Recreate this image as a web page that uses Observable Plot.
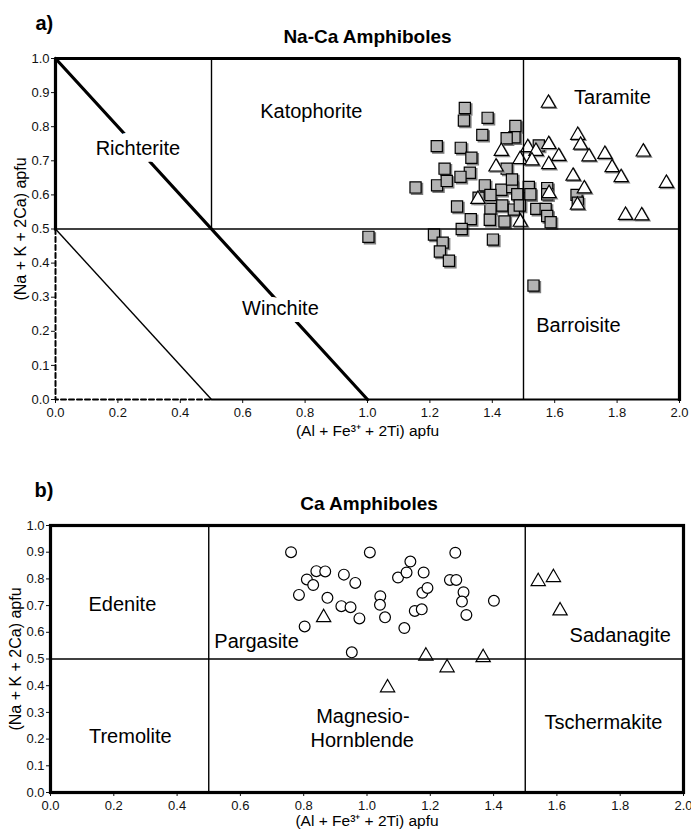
<!DOCTYPE html>
<html>
<head>
<meta charset="utf-8">
<script src="https://cdn.jsdelivr.net/npm/d3@7"></script>
<script src="https://cdn.jsdelivr.net/npm/@observablehq/plot@0.6"></script>
<style>
  html, body { margin: 0; padding: 0; background: #fff; }
  #chart { width: 691px; }
  #chart svg { display: block; }
</style>
</head>
<body>
<div id="chart"></div>
<script>
// ---------- shared axis data ----------
const xTicks = [0, 0.2, 0.4, 0.6, 0.8, 1.0, 1.2, 1.4, 1.6, 1.8, 2.0];
const yTicks = [0, 0.1, 0.2, 0.3, 0.4, 0.5, 0.6, 0.7, 0.8, 0.9, 1.0];
const xTitle = "(Al + Fe³⁺ + 2Ti) apfu";
const yTitle = "(Na + K + 2Ca) apfu";

// ---------- panel a: Na-Ca amphiboles ----------
const panelATag = "a)";
const panelATitle = "Na-Ca Amphiboles";
const naCaSquares = [
  [1.003, 0.477], [1.154, 0.622], [1.222, 0.743], [1.223, 0.628], [1.247, 0.677],
  [1.254, 0.641], [1.213, 0.484], [1.241, 0.460], [1.232, 0.434], [1.261, 0.407],
  [1.312, 0.855], [1.309, 0.818], [1.385, 0.826], [1.368, 0.776], [1.299, 0.738],
  [1.333, 0.709], [1.328, 0.665], [1.298, 0.653], [1.287, 0.566], [1.331, 0.529],
  [1.302, 0.500], [1.402, 0.469], [1.376, 0.628], [1.356, 0.592], [1.394, 0.559],
  [1.392, 0.527], [1.429, 0.615], [1.432, 0.569], [1.439, 0.522], [1.464, 0.623],
  [1.469, 0.557], [1.474, 0.802], [1.471, 0.769], [1.446, 0.766], [1.446, 0.677],
  [1.463, 0.645], [1.394, 0.600], [1.517, 0.623], [1.522, 0.602], [1.576, 0.620],
  [1.576, 0.602], [1.480, 0.602], [1.488, 0.569], [1.541, 0.559], [1.571, 0.559],
  [1.576, 0.538], [1.587, 0.520], [1.549, 0.745], [1.670, 0.600], [1.674, 0.577],
  [1.532, 0.334]
];
const naCaTriangles = [
  [1.580, 0.875], [1.674, 0.781], [1.683, 0.752], [1.710, 0.718], [1.761, 0.725],
  [1.884, 0.732], [1.784, 0.686], [1.813, 0.657], [1.659, 0.661], [1.695, 0.624],
  [1.673, 0.576], [1.958, 0.640], [1.827, 0.546], [1.879, 0.545], [1.582, 0.610],
  [1.490, 0.526], [1.581, 0.754], [1.613, 0.719], [1.581, 0.695], [1.514, 0.745],
  [1.540, 0.734], [1.489, 0.710], [1.527, 0.706], [1.429, 0.734], [1.412, 0.688],
  [1.354, 0.593]
];
// field boundaries (data coordinates)
const naCaOutline = [[0, 0.5], [0, 1], [2, 1], [2, 0]];
const naCaDiagonal = [[0, 1], [1, 0]];
const naCaBase = [[0.5, 0], [2, 0]];
const naCaThinLines = [
  [[0, 0.5], [2, 0.5]],
  [[0.5, 0.5], [0.5, 1]],
  [[1.5, 0], [1.5, 1]],
  [[0, 0.5], [0.5, 0]]
];
const naCaDashed = [[0, 0.5], [0, 0], [0.5, 0]];
const naCaFieldNames = ["Katophorite", "Taramite", "Barroisite"];
const naCaFieldX = [0.82, 1.785, 1.676];
const naCaFieldY = [0.845, 0.886, 0.217];
const naCaHaloNames = ["Richterite", "Winchite"];
const naCaHaloX = [0.264, 0.721];
const naCaHaloY = [0.736, 0.267];

// ---------- panel b: Ca amphiboles ----------
const panelBTag = "b)";
const panelBTitle = "Ca Amphiboles";
const caCircles = [
  [0.760, 0.900], [0.810, 0.798], [0.785, 0.740], [0.830, 0.777], [0.840, 0.829],
  [0.868, 0.828], [0.803, 0.622], [0.875, 0.729], [0.927, 0.816], [0.963, 0.785],
  [0.919, 0.698], [0.948, 0.694], [0.976, 0.652], [0.952, 0.525], [1.009, 0.899],
  [1.042, 0.735], [1.041, 0.703], [1.057, 0.656], [1.098, 0.805], [1.125, 0.824],
  [1.137, 0.865], [1.179, 0.824], [1.175, 0.748], [1.191, 0.766], [1.151, 0.680],
  [1.173, 0.686], [1.118, 0.616], [1.279, 0.898], [1.262, 0.796], [1.282, 0.796],
  [1.305, 0.750], [1.300, 0.715], [1.314, 0.665], [1.401, 0.718]
];
const caTriangles = [
  [0.863, 0.663], [1.186, 0.519], [1.253, 0.475], [1.367, 0.513], [1.065, 0.400],
  [1.541, 0.798], [1.589, 0.813], [1.610, 0.688]
];
const caThinLines = [
  [[0.5, 0], [0.5, 1]],
  [[1.5, 0], [1.5, 1]],
  [[0, 0.5], [2, 0.5]]
];
const caFieldNames = ["Edenite", "Tremolite", "Pargasite", "Magnesio-", "Hornblende", "Sadanagite", "Tschermakite"];
const caFieldX = [0.227, 0.252, 0.651, 0.987, 0.985, 1.80, 1.747];
const caFieldY = [0.704, 0.209, 0.565, 0.286, 0.196, 0.5875, 0.2625];

// ---------- helpers ----------
const FONT = "'Liberation Sans', Arial, Helvetica, sans-serif";
const px = d => d[0], py = d => d[1];
const labels = (names, xs, ys) => names.map((t, i) => ({t, x: xs[i], y: ys[i]}));
const seg = {x1: d => d[0][0], y1: d => d[0][1], x2: d => d[1][0], y2: d => d[1][1]};

function basePlot(opts, marks) {
  return Plot.plot({
    width: 691,
    height: opts.height,
    marginTop: opts.marginTop,
    marginBottom: opts.marginBottom,
    marginLeft: opts.marginLeft,
    marginRight: opts.marginRight,
    style: {fontFamily: FONT, fontSize: "13px", color: "#111", background: "white", overflow: "visible"},
    x: {domain: [0, 2], ticks: xTicks, tickFormat: d => d.toFixed(1), tickSize: 4, tickPadding: 4, label: null},
    y: {domain: [0, 1], ticks: yTicks, tickFormat: d => d.toFixed(1), tickSize: 4, tickPadding: 2, label: null},
    marks
  });
}

function headerMarks(tag, title, tagDx, titleDx, xLabelDy) {
  return [
    Plot.text([tag], {frameAnchor: "top-left", dx: tagDx, dy: -29, text: d => d, textAnchor: "start",
      lineAnchor: "bottom", fontWeight: "bold", fontSize: 20, fill: "black"}),
    Plot.text([title], {frameAnchor: "top", dx: titleDx, dy: -22, text: d => d, textAnchor: "middle",
      lineAnchor: "middle", fontWeight: "bold", fontSize: 19, fill: "black"}),
    Plot.text([xTitle], {frameAnchor: "bottom", dy: xLabelDy, text: d => d, textAnchor: "middle",
      lineAnchor: "middle", fontSize: 15.5, fill: "black"}),
    Plot.text([yTitle], {frameAnchor: "left", dx: -35, rotate: -90, text: d => d, textAnchor: "middle",
      lineAnchor: "middle", fontSize: 16, fill: "black"})
  ];
}

// ---------- panel a ----------
const plotA = basePlot(
  {height: 452, marginTop: 58, marginBottom: 53, marginLeft: 55, marginRight: 12},
  [
    // shadows + points
    Plot.dot(naCaSquares, {x: px, y: py, symbol: "square", r: 6.3, fill: "#7d7d7d", stroke: "#7d7d7d", strokeWidth: 1.2, dx: 1.5, dy: 1.5}),
    Plot.dot(naCaSquares, {x: px, y: py, symbol: "square", r: 6.3, fill: "#b4b4b4", stroke: "black", strokeWidth: 1.2}),
    Plot.dot(naCaTriangles, {x: px, y: py, symbol: "triangle", r: 5.3, fill: "#8a8a8a", stroke: "#8a8a8a", strokeWidth: 1.2, dx: 1.2, dy: 3.2}),
    Plot.dot(naCaTriangles, {x: px, y: py, symbol: "triangle", r: 5.3, fill: "white", stroke: "black", strokeWidth: 1.2, dy: 2}),
    // boundaries
    Plot.link(naCaThinLines, {...seg, stroke: "black", strokeWidth: 1.4}),
    Plot.line(naCaDashed, {x: px, y: py, stroke: "black", strokeWidth: 2, strokeDasharray: "5,3"}),
    Plot.line(naCaBase, {x: px, y: py, stroke: "black", strokeWidth: 2}),
    Plot.line(naCaDiagonal, {x: px, y: py, stroke: "black", strokeWidth: 3.2}),
    Plot.line(naCaOutline, {x: px, y: py, stroke: "black", strokeWidth: 3.2, strokeLinejoin: "miter", strokeLinecap: "square"}),
    // field names
    Plot.text(labels(naCaHaloNames, naCaHaloX, naCaHaloY), {x: "x", y: "y", text: "t", fontSize: 20, fill: "white", stroke: "white", strokeWidth: 14, strokeLinejoin: "round"}),
    Plot.text(labels(naCaHaloNames, naCaHaloX, naCaHaloY), {x: "x", y: "y", text: "t", fontSize: 20, fill: "black"}),
    Plot.text(labels(naCaFieldNames, naCaFieldX, naCaFieldY), {x: "x", y: "y", text: "t", fontSize: 20, fill: "black"}),
    ...headerMarks(panelATag, panelATitle, -20, 0, 32)
  ]
);

// ---------- panel b ----------
const plotB = basePlot(
  {height: 380, marginTop: 73, marginBottom: 40, marginLeft: 50, marginRight: 8},
  [
    Plot.dot(caCircles, {x: px, y: py, symbol: "circle", r: 5.4, fill: "white", stroke: "black", strokeWidth: 1.2}),
    Plot.dot(caTriangles, {x: px, y: py, symbol: "triangle", r: 5.3, fill: "white", stroke: "black", strokeWidth: 1.2, dy: 2}),
    Plot.link(caThinLines, {...seg, stroke: "black", strokeWidth: 1.4}),
    Plot.frame({stroke: "black", strokeWidth: 3.2}),
    Plot.text(labels(caFieldNames, caFieldX, caFieldY), {x: "x", y: "y", text: "t", fontSize: 20, fill: "black"}),
    ...headerMarks(panelBTag, panelBTitle, -16, 2, 29)
  ]
);

const chart = document.getElementById("chart");
chart.appendChild(plotA);
chart.appendChild(plotB);
</script>
</body>
</html>
